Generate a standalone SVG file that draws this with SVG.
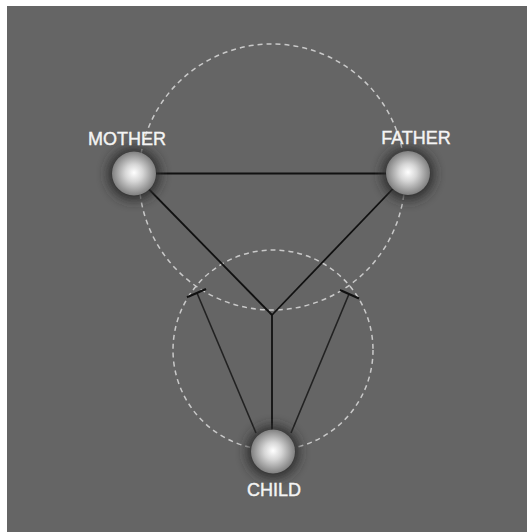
<svg xmlns="http://www.w3.org/2000/svg" width="527" height="532" viewBox="0 0 527 532">
<defs>
<radialGradient id="sph" cx="0.5" cy="0.5" r="0.5" fx="0.5" fy="0.48">
<stop offset="0" stop-color="#ffffff"/>
<stop offset="0.4" stop-color="#d6d6d6"/>
<stop offset="1" stop-color="#808080"/>
</radialGradient>
<filter id="glow" x="-1" y="-1" width="3" height="3">
<feGaussianBlur stdDeviation="6"/>
</filter>
</defs>
<style>
.guide{fill:none;stroke:#c9c9c9;stroke-width:1.5;stroke-dasharray:5 4}
.edge{stroke:#111;stroke-width:1.8;fill:none}
.thin{stroke:#222;stroke-width:1.6;fill:none}
.tick{stroke:#111;stroke-width:2.2}
.label{font-family:"Liberation Sans",Arial,sans-serif;font-size:18px;fill:#f4f4f4;stroke:#f4f4f4;stroke-width:0.4;text-anchor:middle}
.halo{fill:#2a2a2a;filter:url(#glow)}
.ball{fill:url(#sph)}
</style>
<rect x="0" y="0" width="527" height="532" fill="#ffffff"/>
<rect x="7" y="6" width="520" height="526" fill="#656565"/>
<g id="guides">
<circle class="guide" cx="272" cy="177" r="133"/>
<circle class="guide" cx="273" cy="350" r="100"/>
</g>
<g id="connectors">
<line class="edge" x1="134" y1="173.5" x2="408" y2="173.5"/>
<line class="edge" x1="134" y1="174" x2="272" y2="315"/>
<line class="edge" x1="408" y1="173" x2="272" y2="315"/>
<line class="edge" x1="272" y1="315" x2="272" y2="432"/>
<line class="thin" x1="197" y1="293" x2="256" y2="433"/>
<line class="thin" x1="349" y1="294" x2="291" y2="433"/>
<line class="tick" x1="187" y1="297.3" x2="206" y2="289"/>
<line class="tick" x1="340" y1="290" x2="359" y2="298.5"/>
</g>
<g id="mother">
<circle class="halo" cx="134" cy="174" r="26"/>
<circle class="ball" cx="134" cy="173.5" r="22"/>
<text class="label" x="127" y="145">MOTHER</text>
</g>
<g id="father">
<circle class="halo" cx="408" cy="174" r="26"/>
<circle class="ball" cx="408" cy="173" r="22"/>
<text class="label" x="416" y="144">FATHER</text>
</g>
<g id="child">
<circle class="halo" cx="273" cy="452" r="26"/>
<circle class="ball" cx="273" cy="451.5" r="22"/>
<text class="label" x="274" y="496">CHILD</text>
</g>
</svg>
